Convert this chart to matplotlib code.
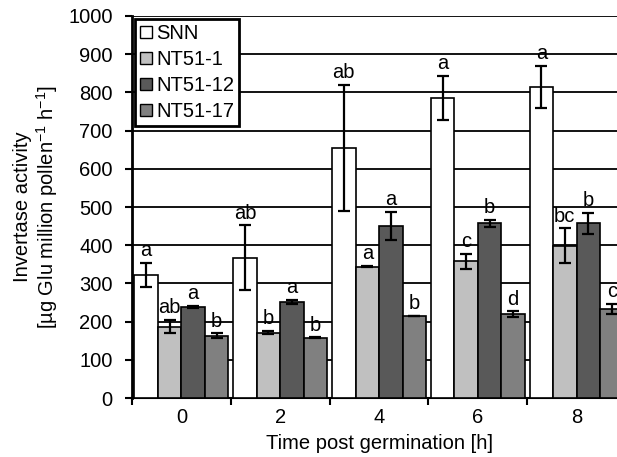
import numpy as np
import matplotlib.pyplot as plt
from matplotlib.patches import Patch

plt.rcParams['font.family'] = ['Liberation Sans', 'DejaVu Sans']
plt.rcParams['mathtext.fontset'] = 'custom'
plt.rcParams['mathtext.rm'] = 'Liberation Sans'
plt.rcParams['font.size'] = 14.5

# data
times = ['0', '2', '4', '6', '8']
lines = ['SNN', 'NT51-1', 'NT51-12', 'NT51-17']
colors = ['#ffffff', '#c0c0c0', '#595959', '#808080']

means = np.array([
    [322, 367, 655, 786, 814],   # SNN
    [187, 171, 344, 358, 399],   # NT51-1
    [239, 251, 451, 457, 457],   # NT51-12
    [163, 158, 215, 220, 233],   # NT51-17
])
errs = np.array([
    [32, 85, 165, 57, 55],
    [17, 4, 2, 20, 45],
    [2, 5, 37, 10, 27],
    [6, 1, 1, 7, 13],
])
letters = [
    ['a', 'ab', 'ab', 'a', 'a'],
    ['ab', 'b', 'a', 'c', 'bc'],
    ['a', 'a', 'a', 'b', 'b'],
    ['b', 'b', 'b', 'd', 'c'],
]

fig = plt.figure(figsize=(6.17, 4.57), dpi=100)
ax = fig.add_axes([0.214, 0.129, 0.8006, 0.836])

x = np.arange(len(times))
w = 0.238
for k in range(len(lines)):
    pos = x + (k - 1.5) * w
    ax.bar(pos, means[k], w, color=colors[k], edgecolor='black', linewidth=1.2, zorder=3)
    ax.errorbar(pos, means[k], yerr=errs[k], fmt='none', ecolor='black',
                elinewidth=1.6, capsize=4, capthick=1.6, zorder=4)
    for j in range(len(times)):
        ax.annotate(letters[k][j], (pos[j], means[k][j] + errs[k][j]),
                    xytext=(0, 2), textcoords='offset points',
                    ha='center', va='bottom', fontsize=14.5, zorder=5)

ax.set_xlim(-0.5, len(times) - 0.5)
ax.set_ylim(0, 1000)
ax.set_yticks(np.arange(0, 1001, 100))
ax.set_xticks(x)
ax.set_xticklabels(times)
ax.set_xticks(np.arange(-0.5, len(times), 1), minor=True)
ax.tick_params(axis='x', which='major', length=0, pad=7)
ax.tick_params(axis='x', which='minor', length=5, width=1.5, direction='out')
ax.tick_params(axis='y', length=5, width=1.5, direction='out', pad=9)
ax.yaxis.grid(True, color='black', linewidth=1.3, zorder=0)
ax.set_axisbelow(True)
for s in ['top', 'right']:
    ax.spines[s].set_visible(False)
ax.spines['left'].set_linewidth(2)
ax.spines['bottom'].set_linewidth(1.5)

ax.set_xlabel('Time post germination [h]', labelpad=5)
ax.set_ylabel('Invertase activity\n[µg Glu million pollen$^{\\mathrm{-1}}$ h$^{\\mathrm{-1}}$]',
              labelpad=6, linespacing=1.1)

handles = [Patch(facecolor=c, edgecolor='black', linewidth=1) for c in colors]
leg = ax.legend(handles, lines, loc='upper left', frameon=True,
                fancybox=False, edgecolor='black', framealpha=1,
                handlelength=0.6, handleheight=0.6, handletextpad=0.2,
                labelspacing=0.35, borderpad=0.25, borderaxespad=0.15)
leg.get_frame().set_linewidth(2)
leg.set_zorder(10)

fig.savefig('out.png', dpi=100)
